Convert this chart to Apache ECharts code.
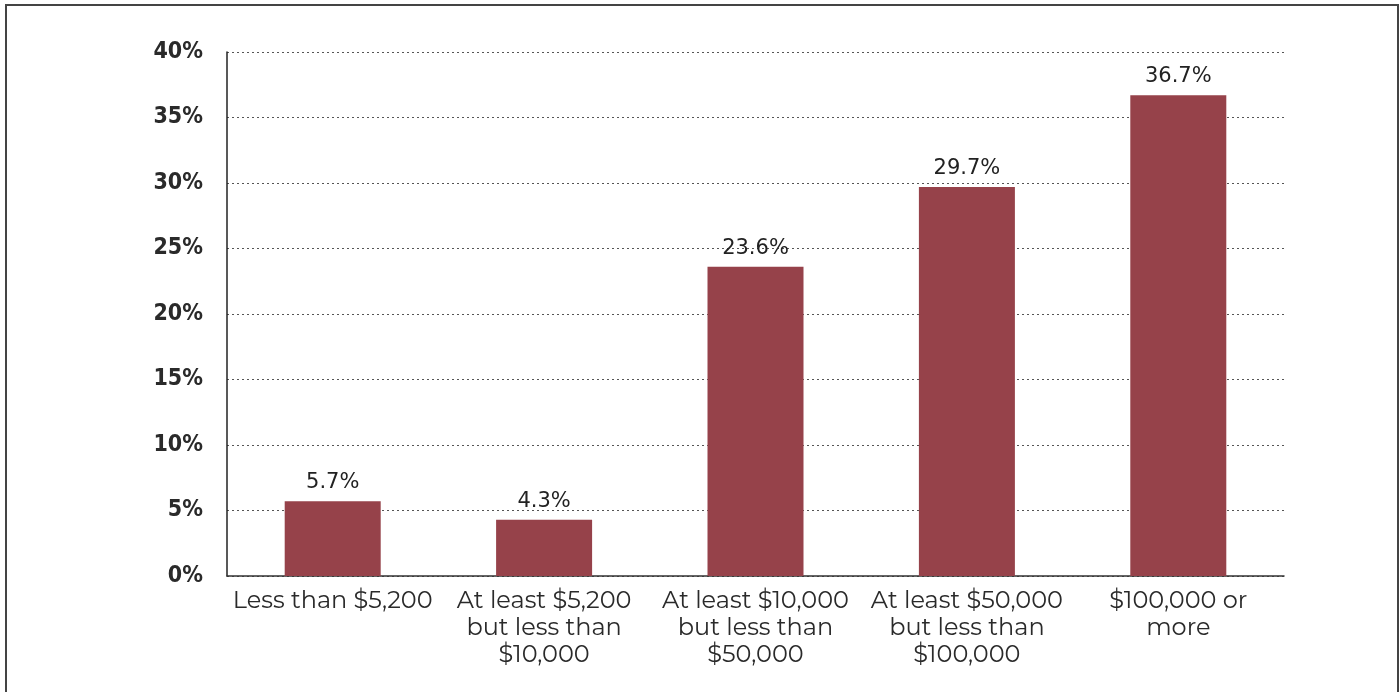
<!DOCTYPE html>
<html>
<head>
<meta charset="utf-8">
<script src="https://cdn.jsdelivr.net/npm/echarts@6/dist/echarts.min.js"></script>
<style>
  html, body { margin: 0; padding: 0; background: #fff; }
  #chart { width: 1400px; height: 692px; }
</style>
</head>
<body>
<div id="chart"></div>
<script>
const categories = [
  'Less than $5,200',
  'At least $5,200\nbut less than\n$10,000',
  'At least $10,000\nbut less than\n$50,000',
  'At least $50,000\nbut less than\n$100,000',
  '$100,000 or\nmore'
];
const shares = [5.7, 4.3, 23.6, 29.7, 36.7];
const yTicks = { min: 0, max: 40, interval: 5 };

const chart = echarts.init(document.getElementById('chart'));
chart.setOption({
  animation: false,
  graphic: [{
    type: 'polyline',
    shape: { points: [[6, 692], [6, 5], [1398, 5], [1398, 692]] },
    style: { stroke: '#444', lineWidth: 2, fill: null }
  }],
  grid: { left: 227, right: 116, top: 52, bottom: 116 },
  xAxis: {
    type: 'category',
    data: categories,
    axisLine: { lineStyle: { color: '#333', width: 1.5 } },
    axisTick: { show: false },
    axisLabel: {
      margin: 11,
      fontFamily: 'Montserrat, "Noto Sans", sans-serif',
      fontSize: 24,
      lineHeight: 27,
      color: '#2a2a2a',
      interval: 0
    }
  },
  yAxis: {
    type: 'value',
    min: yTicks.min,
    max: yTicks.max,
    interval: yTicks.interval,
    axisLine: { show: true, lineStyle: { color: '#222', width: 1.5 } },
    axisTick: { show: false },
    splitLine: { lineStyle: { type: [2, 3], color: '#555', width: 1 } },
    axisLabel: {
      margin: 24,
      formatter: '{value}%',
      fontFamily: '"DejaVu Sans Condensed", "Liberation Sans Narrow", sans-serif',
      fontWeight: 'bold',
      fontSize: 23,
      color: '#2a2a2a'
    }
  },
  series: [{
    type: 'bar',
    data: shares,
    barWidth: 96,
    itemStyle: { color: '#96424a' },
    label: {
      show: true,
      position: 'top',
      distance: 8,
      formatter: p => p.value.toFixed(1) + '%',
      fontFamily: '"DejaVu Sans", sans-serif',
      fontSize: 21,
      color: '#222'
    }
  }]
});
</script>
</body>
</html>
